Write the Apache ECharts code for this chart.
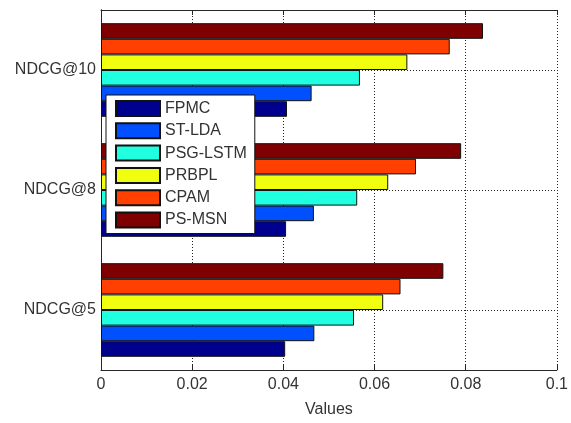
<!DOCTYPE html>
<html>
<head>
<meta charset="utf-8">
<script src="https://cdn.jsdelivr.net/npm/echarts@6/dist/echarts.min.js"></script>
<style>
  html, body { margin: 0; padding: 0; background: #fff; }
  #chart { width: 571px; height: 423px; }
</style>
</head>
<body>
<div id="chart"></div>
<script>
// categories, bottom to top
var categories = ['NDCG@5', 'NDCG@8', 'NDCG@10'];
var seriesNames = ['FPMC', 'ST-LDA', 'PSG-LSTM', 'PRBPL', 'CPAM', 'PS-MSN'];
var FPMC = [0.0404, 0.0406, 0.0408];
var STLDA = [0.0468, 0.0467, 0.0462];
var PSGLSTM = [0.0555, 0.0562, 0.0568];
var PRBPL = [0.0619, 0.0630, 0.0672];
var CPAM = [0.0657, 0.0691, 0.0765];
var PSMSN = [0.0751, 0.0790, 0.0838];
var xTicks = [0, 0.02, 0.04, 0.06, 0.08, 0.1];

var colors = ['#00008f', '#0050ff', '#20ffdf', '#f0ff10', '#ff4000', '#7f0000'];
var seriesValues = [FPMC, STLDA, PSGLSTM, PRBPL, CPAM, PSMSN];

var chart = echarts.init(document.getElementById('chart'));
var font = 'Liberation Sans, Arial, sans-serif';
var textColor = '#333';
var lineColor = '#262626';

// echarts puts the first series at the top of a horizontal group, so add them in reverse
var series = [];
for (var i = seriesNames.length - 1; i >= 0; i--) {
    series.push({
        name: seriesNames[i],
        type: 'bar',
        data: seriesValues[i],
        barGap: 0,
        barCategoryGap: '22%',
        itemStyle: {
            color: colors[i],
            borderColor: '#111',
            borderWidth: 1
        }
    });
}

var option = {
    animation: false,
    grid: { left: 101, right: 12, top: 10, bottom: 44 },
    legend: {
        data: seriesNames,
        orient: 'vertical',
        left: 106,
        top: 95,
        itemWidth: 44,
        itemHeight: 15,
        itemGap: 5.3,
        padding: [5, 8, 5, 9],
        backgroundColor: '#fff',
        borderColor: '#111',
        borderWidth: 1,
        borderRadius: 0,
        icon: 'rect',
        textStyle: { fontFamily: font, fontSize: 16, lineHeight: 15, color: textColor }
    },
    xAxis: [{
        type: 'value',
        min: 0,
        max: 0.1,
        interval: 0.02,
        name: 'Values',
        nameLocation: 'middle',
        nameGap: 32,
        nameTextStyle: { fontFamily: font, fontSize: 16, color: textColor },
        axisLine: { show: true, lineStyle: { color: lineColor, width: 1 } },
        axisTick: { show: true, inside: true, length: 5, lineStyle: { color: lineColor } },
        axisLabel: {
            fontFamily: font, fontSize: 16, color: textColor, margin: 7,
            formatter: function(v) {
                var t = xTicks.filter(function(x) { return Math.abs(x - v) < 1e-9; })[0];
                return t === undefined ? '' : String(t);
            }
        },
        splitLine: { show: true, lineStyle: { color: '#222', type: [1, 2], width: 1 } }
    }, {
        type: 'value',
        position: 'top',
        min: 0,
        max: 0.1,
        interval: 0.02,
        axisLine: { show: true, lineStyle: { color: lineColor, width: 1 } },
        axisTick: { show: true, inside: true, length: 5, lineStyle: { color: lineColor } },
        axisLabel: { show: false },
        splitLine: { show: false }
    }],
    yAxis: [{
        type: 'category',
        data: categories,
        axisLine: { show: true, lineStyle: { color: lineColor, width: 1 } },
        axisTick: { show: false },
        axisLabel: { fontFamily: font, fontSize: 16, color: textColor, margin: 5 },
        splitLine: { show: false }
    }, {
        type: 'category',
        position: 'right',
        data: categories,
        axisLine: { show: true, lineStyle: { color: lineColor, width: 1 } },
        axisTick: { show: false },
        axisLabel: { show: false },
        splitLine: { show: true, alignWithLabel: true, lineStyle: { color: '#222', type: [1, 2], width: 1 } }
    }],
    series: series
};

chart.setOption(option);

window.addEventListener('resize', function() {
    chart.resize();
});
</script>
</body>
</html>
